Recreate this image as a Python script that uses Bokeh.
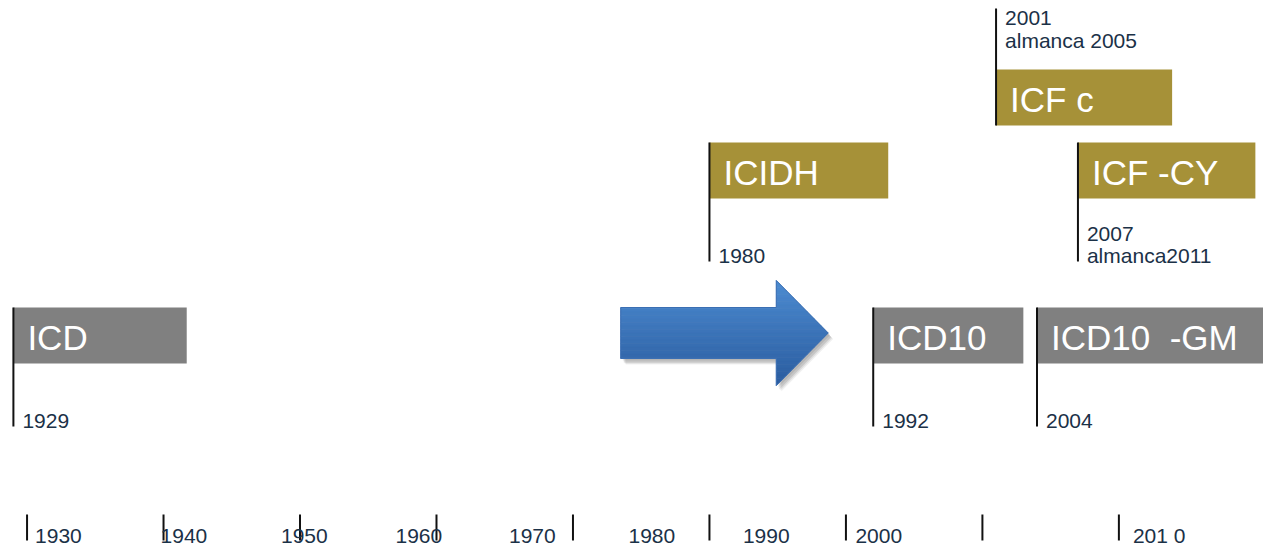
from bokeh.plotting import figure
from bokeh.models import Range1d, ColumnDataSource
from bokeh.core.properties import value
from bokeh.embed import file_html
from bokeh.resources import INLINE

# ---------------- data ----------------
names = ["ICD", "ICD10", "ICD10\u00a0\u00a0-GM", "ICIDH", "ICF c", "ICF -CY"]
start_years = [1929, 1992, 2004, 1980, 2001, 2007]
end_years = [1941.7, 2003.0, 2022.0, 1993.1, 2013.9, 2020.0]
families = ["ICD", "ICD", "ICD", "ICF", "ICF", "ICF"]
lanes = [0, 0, 0, 1, 2, 1]
year_labels = ["1929", "1992", "2004", "1980", "2001", "2007"]
notes = ["", "", "", "", "almanca 2005", "almanca2011"]

tick_years = [1930, 1940, 1950, 1960, 1970, 1980, 1990, 2000, 2010]
tick_labels = ["1930", "1940", "1950", "1960", "1970", "1980", "1990", "2000", "201 0"]

arrow_years = [1973.5, 1984.9, 1988.7]  # tail, head base, tip

# ---------------- layout / style ----------------
W, H = 1263, 547
PX_PER_YEAR = 13.648
x_start = 1929 - 12.9 / PX_PER_YEAR
x_end = x_start + W / PX_PER_YEAR

FAMILY_COLOR = {"ICD": "#808080", "ICF": "#A69138"}
TEXT_COLOR = "#1b3147"
FONT = "Liberation Sans"

# lane -> (box top, box bottom, line top, line bottom) in pixels from top
LANE = {0: (307, 363, 307, 426), 1: (142, 198, 142, 261), 2: (69, 125, 8, 125)}
LABEL_ABOVE = {0: False, 1: False, 2: True}

tick_label_offsets = [8, -3, -19, -41, -64, -81, -103, -127, 14]

p = figure(width=W, height=H, output_backend="svg", toolbar_location=None,
           x_range=Range1d(x_start, x_end), y_range=Range1d(H, 0),
           min_border=0, min_border_left=0, min_border_right=0,
           min_border_top=0, min_border_bottom=0)
p.axis.visible = False
p.grid.visible = False
p.outline_line_color = None
p.background_fill_color = "white"
p.border_fill_color = "white"

# ---------------- arrow (gradient bands + shadow) ----------------
a0, a1, a2 = arrow_years
ys_t, ys_b, hd_t, hd_b = 307, 358, 280, 385
tip_y = (hd_t + hd_b) / 2
arrow_poly = [(a0, ys_t), (a1, ys_t), (a1, hd_t), (a2, tip_y), (a1, hd_b), (a1, ys_b), (a0, ys_b)]

for dx, dy, al in [(5, 6, 0.06), (4, 5, 0.08), (3, 4, 0.10), (2, 2, 0.08)]:
    p.patch([x + dx / PX_PER_YEAR for x, _ in arrow_poly], [y + dy for _, y in arrow_poly],
            fill_color="#000000", fill_alpha=al, line_color=None)


def clip(poly, yv, keep_below):
    out = []
    n = len(poly)
    for i in range(n):
        cx, cy = poly[i]
        px_, py_ = poly[i - 1]
        cin = (cy >= yv) if keep_below else (cy <= yv)
        pin = (py_ >= yv) if keep_below else (py_ <= yv)
        if cin:
            if not pin:
                t = (yv - py_) / (cy - py_)
                out.append((px_ + t * (cx - px_), yv))
            out.append((cx, cy))
        elif pin:
            t = (yv - py_) / (cy - py_)
            out.append((px_ + t * (cx - px_), yv))
    return out


def lerp_color(c1, c2, t):
    a = [int(c1[i:i + 2], 16) for i in (1, 3, 5)]
    b = [int(c2[i:i + 2], 16) for i in (1, 3, 5)]
    return "#%02x%02x%02x" % tuple(int(round(a[j] + (b[j] - a[j]) * t)) for j in range(3))


NB = 30
for i in range(NB):
    ya = hd_t + (hd_b - hd_t) * i / NB
    yb = hd_t + (hd_b - hd_t) * (i + 1) / NB
    band = clip(clip(arrow_poly, ya, True), yb, False)
    if len(band) < 3:
        continue
    col = lerp_color("#4c8bd1", "#2a5c9f", (i + 0.5) / NB)
    p.patch([q[0] for q in band], [q[1] for q in band], fill_color=col,
            line_color=col, line_width=0.6)
p.patch([q[0] for q in arrow_poly], [q[1] for q in arrow_poly], fill_color=None,
        line_color="#3b6fb3", line_width=1)

# ---------------- boxes ----------------
box_src = ColumnDataSource(dict(
    left=start_years, right=end_years,
    top=[LANE[l][0] for l in lanes], bottom=[LANE[l][1] for l in lanes],
    color=[FAMILY_COLOR[f] for f in families], name=names,
    ymid=[(LANE[l][0] + LANE[l][1]) / 2 + 2 for l in lanes],
))
p.quad(left="left", right="right", top="top", bottom="bottom", fill_color="color",
       line_color=None, source=box_src)
p.text(x="left", y="ymid", text="name", source=box_src, text_color="white",
       text_font=value(FONT), text_font_size=value("35px"), text_baseline="middle",
       text_align="left", x_offset=14)

# ---------------- event lines ----------------
p.segment(x0=start_years, x1=start_years, y0=[LANE[l][2] for l in lanes],
          y1=[LANE[l][3] for l in lanes], line_color="#111111", line_width=2)

# ---------------- year / note labels ----------------
lx, ly, lt = [], [], []
for yr, lab, note, l in zip(start_years, year_labels, notes, lanes):
    top, bot, ltop, lbot = LANE[l]
    if LABEL_ABOVE[l]:
        lx += [yr]; ly += [17]; lt += [lab]
        if note:
            lx += [yr]; ly += [40]; lt += [note]
    else:
        if note:
            lx += [yr, yr]; ly += [lbot - 28, lbot - 6]; lt += [lab, note]
        else:
            lx += [yr]; ly += [lbot - 6]; lt += [lab]
p.text(x=lx, y=ly, text=lt, text_color=TEXT_COLOR, text_font=value(FONT),
       text_font_size=value("21px"), text_baseline="middle", text_align="left", x_offset=9)

# ---------------- bottom ticks ----------------
p.segment(x0=tick_years, x1=tick_years, y0=[514] * len(tick_years), y1=[540] * len(tick_years),
          line_color="#111111", line_width=2)
tick_src = ColumnDataSource(dict(x=tick_years, y=[535] * len(tick_years), t=tick_labels,
                                 off=tick_label_offsets))
p.text(x="x", y="y", text="t", x_offset="off", source=tick_src, text_color=TEXT_COLOR,
       text_font=value(FONT), text_font_size=value("21px"), text_baseline="middle",
       text_align="left")

open("out.html", "w").write(file_html(p, INLINE))
